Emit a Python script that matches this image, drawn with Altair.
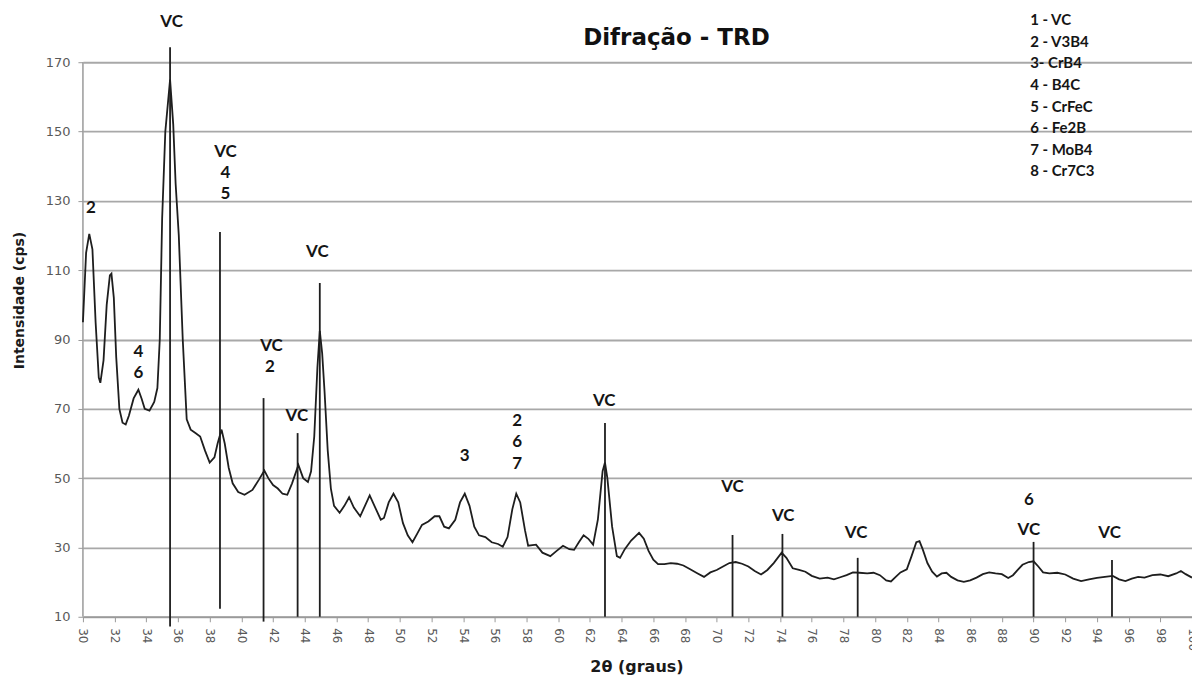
import altair as alt
import pandas as pd

# ---- diffraction curve (2θ, intensity) ----
two_theta = [30.0, 30.2, 30.4, 30.6, 30.8, 31.0, 31.1, 31.3, 31.5, 31.7, 31.8, 31.95, 32.1, 32.3, 32.5,
             32.7, 32.9, 33.2, 33.5, 33.7, 33.9, 34.2, 34.5, 34.7, 34.85, 35.0, 35.2, 35.5, 35.7, 35.85,
             36.05, 36.3, 36.55, 36.8, 37.1, 37.4, 37.7, 38.0, 38.3, 38.5, 38.75, 38.95, 39.2, 39.45,
             39.8, 40.2, 40.7, 41.1, 41.45, 41.7, 42.0, 42.3, 42.6, 42.9, 43.2, 43.6, 43.9, 44.2,
             44.4, 44.6, 44.8, 44.95, 45.1, 45.25, 45.45, 45.65, 45.85, 46.2, 46.5, 46.8, 47.1, 47.5,
             47.8, 48.1, 48.4, 48.8, 49.0, 49.3, 49.6, 49.9, 50.2, 50.5, 50.8, 51.1, 51.4, 51.8,
             52.2, 52.5, 52.8, 53.1, 53.5, 53.8, 54.1, 54.4, 54.7, 55.0, 55.4, 55.8, 56.2, 56.5,
             56.8, 57.1, 57.35, 57.6, 57.9, 58.1, 58.6, 59.0, 59.5, 59.9, 60.3, 60.7, 61.0, 61.3,
             61.6, 61.9, 62.2, 62.5, 62.8, 62.95, 63.1, 63.4, 63.7, 63.9, 64.2, 64.6, 65.1, 65.4,
             65.7, 66.0, 66.3, 66.7, 67.1, 67.5, 67.9, 68.3, 68.8, 69.2, 69.6, 70.0, 70.4, 70.8,
             71.2, 71.6, 72.0, 72.4, 72.8, 73.2, 73.6, 74.1, 74.4, 74.8, 75.2, 75.6, 76.0, 76.5,
             77.0, 77.4, 77.8, 78.2, 78.6, 79.0, 79.5, 79.9, 80.3, 80.7, 81.0, 81.3, 81.6, 82.0,
             82.3, 82.6, 82.8, 83.0, 83.3, 83.6, 83.9, 84.2, 84.5, 84.8, 85.2, 85.6, 86.0, 86.4,
             86.8, 87.2, 87.6, 88.0, 88.4, 88.7, 89.0, 89.3, 89.7, 90.0, 90.3, 90.6, 91.0, 91.5,
             92.0, 92.5, 93.0, 93.5, 94.0, 94.5, 95.0, 95.4, 95.8, 96.2, 96.6, 97.0, 97.5, 98.0,
             98.5, 99.0, 99.3, 99.6, 100.0]
intensity = [95, 115, 120.5, 116, 95, 79, 77.5, 84, 100, 108.5, 109, 102, 85, 70, 66,
             65.5, 68, 73, 75.5, 73, 70, 69.5, 72, 76, 90, 125, 150, 165, 152, 135,
             120, 90, 67, 64, 63, 62, 58, 54.5, 56, 60, 64, 60, 53, 48.5,
             46, 45.2, 46.6, 49.5, 52.2, 50, 48, 47, 45.5, 45.2, 48.5, 53.8, 50, 48.9,
             52, 62, 82, 92.5, 86, 75, 58, 47, 42, 40, 42, 44.5, 41.5, 39,
             42, 45, 42, 38, 38.5, 43, 45.5, 43, 37, 33.5, 31.5, 34, 36.5, 37.5,
             39, 39, 36, 35.5, 38, 43, 45.5, 42, 36, 33.5, 33, 31.5, 31, 30.2,
             33, 41, 45.5, 43, 35, 30.5, 30.8, 28.5, 27.5, 29, 30.5, 29.5, 29.3, 31.5,
             33.5, 32.5, 30.8, 38, 52, 54.5, 50, 36, 27.5, 27, 29.5, 32, 34.2, 32.5,
             29, 26.5, 25.2, 25.2, 25.5, 25.3, 24.8, 23.8, 22.5, 21.5, 22.8, 23.5, 24.5, 25.5,
             25.8, 25.3, 24.5, 23.2, 22.2, 23.5, 25.5, 28.5, 27, 24, 23.5, 23, 21.8, 21,
             21.3, 20.8, 21.4, 22, 22.8, 22.7, 22.5, 22.7, 22, 20.5, 20.2, 21.5, 22.8, 23.7,
             27.5, 31.5, 31.8, 29.5, 25.5, 23, 21.6, 22.5, 22.7, 21.5, 20.5, 20.1, 20.5, 21.3,
             22.3, 22.8, 22.5, 22.3, 21.2, 22, 23.5, 25, 25.8, 26, 24.5, 22.8, 22.5, 22.7,
             22.2, 21, 20.3, 20.8, 21.2, 21.5, 21.8, 20.8, 20.3, 21, 21.5, 21.3, 22, 22.2,
             21.7, 22.5, 23.2, 22.3, 21.3]

# ---- reference sticks ----
stick_pos = [35.5, 38.65, 41.4, 43.55, 44.95, 62.95, 71.0, 74.15, 78.9, 90.0, 94.95]
stick_top = [174.3, 121.0, 73.1, 63.0, 106.3, 65.9, 33.6, 33.9, 27.0, 31.6, 26.4]
stick_bottom = [7.2, 12.3, 8.6, 10, 10, 10, 10, 10, 10, 10, 10]

# ---- peak labels ----
label_text = ["VC", "2", "4", "6", "VC", "4", "5", "VC", "2", "VC", "VC", "3",
              "2", "6", "7", "VC", "VC", "VC", "VC", "6", "VC", "VC"]
label_x = [35.6, 30.5, 33.5, 33.5, 39.0, 39.0, 39.0, 41.9, 41.8, 43.5, 44.8, 54.1,
           57.4, 57.4, 57.4, 62.9, 71.0, 74.2, 78.8, 89.7, 89.7, 94.8]
label_y = [181.5, 127.9, 86.4, 80.3, 144.0, 138.0, 132.0, 88.0, 82.0, 67.9, 115.2, 56.4,
           66.5, 60.4, 54.1, 72.2, 47.5, 39.1, 34.2, 43.7, 35.0, 34.2]

legend_lines = ["1 - VC", "2 - V3B4", "3- CrB4", "4 - B4C", "5 - CrFeC", "6 - Fe2B", "7 - MoB4", "8 - Cr7C3"]

y_ticks = [10, 30, 50, 70, 90, 110, 130, 150, 170]
x_ticks = list(range(30, 101, 2))

curve = pd.DataFrame({"t": two_theta, "i": intensity})
sticks = pd.DataFrame({"t": stick_pos, "top": stick_top, "bot": stick_bottom})
labels = pd.DataFrame({"t": label_x, "i": label_y, "txt": label_text})
y_axis_line = pd.DataFrame({"t": [30], "bot": [y_ticks[0]], "top": [y_ticks[-1]]})

xs = alt.Scale(domain=[30, 100], nice=False, zero=False)
ys = alt.Scale(domain=[10, 185], nice=False, zero=False)

x_axis = alt.Axis(
    values=x_ticks, labelAngle=90, labelAlign="left", labelBaseline="middle",
    labelFont="DejaVu Sans", labelFontSize=12, labelColor="#595959", labelPadding=6,
    tickColor="#9a9a9a", tickSize=5, domainColor="#9a9a9a", domainWidth=1.5, grid=False,
    title="2θ (graus)", titleFont="DejaVu Sans", titleFontSize=16, titleFontWeight="bold",
    titleColor="#1a1a1a", titleX=554, titleY=50, titleAlign="center", titleBaseline="middle")
y_axis = alt.Axis(
    values=y_ticks, labelFont="DejaVu Sans", labelFontSize=13, labelColor="#595959",
    labelPadding=8, tickColor="#9a9a9a", tickSize=5, domain=False,
    grid=True, gridColor="#a8a8a8", gridWidth=1.8,
    title="Intensidade (cps)", titleFont="DejaVu Sans", titleFontSize=14,
    titleFontWeight="bold", titleColor="#1a1a1a", titleX=-63, titleY=290,
    titleAlign="center", titleBaseline="middle", titleAngle=-90)

axis_rule = alt.Chart(y_axis_line).mark_rule(color="#9a9a9a", strokeWidth=1.5).encode(
    x=alt.X("t:Q", scale=xs, axis=x_axis),
    y=alt.Y("bot:Q", scale=ys, axis=y_axis),
    y2="top:Q",
)

line = alt.Chart(curve).mark_line(color="#1e1e1e", strokeWidth=1.8).encode(
    x=alt.X("t:Q", scale=xs, axis=x_axis),
    y=alt.Y("i:Q", scale=ys, axis=y_axis),
)

rules = alt.Chart(sticks).mark_rule(color="#1e1e1e", strokeWidth=1.8).encode(
    x=alt.X("t:Q", scale=xs, axis=x_axis),
    y=alt.Y("bot:Q", scale=ys, axis=y_axis),
    y2="top:Q",
)

texts = alt.Chart(labels).mark_text(
    font="Lato", fontSize=17, fontWeight="bold", color="#151515", baseline="middle", align="center"
).encode(
    x=alt.X("t:Q", scale=xs, axis=x_axis),
    y=alt.Y("i:Q", scale=ys, axis=y_axis),
    text="txt:N",
)

title = alt.Chart(pd.DataFrame({"s": ["Difração - TRD"]})).mark_text(
    font="DejaVu Sans", fontSize=23, fontWeight="bold", color="#111111",
    align="center", baseline="middle"
).encode(x=alt.value(594), y=alt.value(28), text="s:N")

legend = alt.Chart(pd.DataFrame({"s": ["\n".join(legend_lines)]})).mark_text(
    font="Lato", fontSize=15, fontWeight="bold", color="#151515",
    align="left", baseline="middle", lineBreak="\n", lineHeight=21.6
).encode(x=alt.value(948), y=alt.value(10), text="s:N")

chart = alt.layer(axis_rule, line, rules, texts, title, legend).properties(
    width=1110, height=607,
    autosize=alt.AutoSizeParams(type="none"),
    padding={"left": 83, "top": 10, "right": 0, "bottom": 60},
    background="white",
).configure_view(stroke=None)

chart.save("out.html", embed_options={"renderer": "svg", "actions": False})
